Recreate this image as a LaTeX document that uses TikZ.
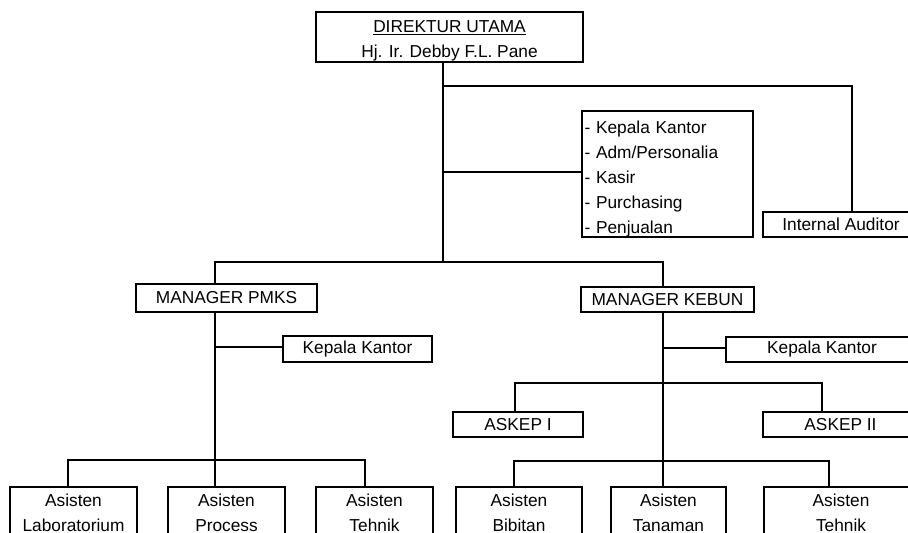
\documentclass[tikz,border=0pt]{standalone}
\usepackage{fontspec}
\setmainfont{Liberation Sans}
\usepackage{tikz}
\usetikzlibrary{calc}

\tikzset{
  kotak/.style={draw, line width=2.6pt, inner sep=0pt, align=center,
    font=\fontsize{17.3}{25}\selectfont},
  garis/.style={line width=1.6pt}
}

\begin{document}
\begin{tikzpicture}[x=1pt,y=-1pt]
    % page area
    \clip (0,0) rectangle (908,533);
    \fill[white] (0,0) rectangle (908,533);

    % draw boxes
    \node[kotak, minimum width=267pt, minimum height=50pt] (dirut) at (449.5,37)
      {\rule{0pt}{20.5pt}\underline{DIREKTUR UTAMA}\\Hj. Ir. Debby F.L. Pane};
    \node[kotak, minimum width=171pt, minimum height=124pt, text width=166pt,
      align=left, inner xsep=2.5pt] (staf) at (667.5,174)
      {\rule{0pt}{22.5pt}- Kepala Kantor\\- Adm/Personalia\\- Kasir\\- Purchasing\\- Penjualan};
    \node[kotak, minimum width=156pt, minimum height=25pt] (audit) at (841,224.5) {Internal Auditor};

    \node[kotak, minimum width=181pt, minimum height=28pt] (pmks) at (226.5,298) {MANAGER PMKS};
    \node[kotak, minimum width=149pt, minimum height=26pt] (kkpmks) at (357.5,349) {Kepala Kantor};
    \node[kotak, minimum width=173pt, minimum height=25pt] (kebun) at (667.5,299.5) {MANAGER KEBUN};
    \node[kotak, minimum width=192pt, minimum height=25pt] (kkkebun) at (822,349.5) {Kepala Kantor};

    \node[kotak, minimum width=130pt, minimum height=25pt] (askep1) at (518,424.5) {ASKEP I};
    \node[kotak, minimum width=155pt, minimum height=25pt] (askep2) at (840.5,424.5) {ASKEP II};

    \node[kotak, minimum width=127pt, minimum height=52pt] (lab) at (73.5,513) {Asisten\\Laboratorium};
    \node[kotak, minimum width=117pt, minimum height=52pt] (proses) at (226.5,513) {Asisten\\Process};
    \node[kotak, minimum width=117pt, minimum height=52pt] (tehpmks) at (374.5,513) {Asisten\\Tehnik};
    \node[kotak, minimum width=126pt, minimum height=52pt] (bibit) at (519,513) {Asisten\\Bibitan};
    \node[kotak, minimum width=115pt, minimum height=52pt] (tanam) at (668.5,513) {Asisten\\Tanaman};
    \node[kotak, minimum width=154pt, minimum height=52pt] (tehkebun) at (841,513) {Asisten\\Tehnik};

    % branch points
    \coordinate (t1) at (443,86);
    \coordinate (t2) at (443,172);
    \coordinate (t3) at (443,262);
    \coordinate (a1) at (852,86);
    \coordinate (m1) at (215,262);
    \coordinate (m2) at (663,262);
    \coordinate (p1) at (215,347);
    \coordinate (p3) at (215,460);
    \coordinate (b1) at (68,460);
    \coordinate (b3) at (365,460);
    \coordinate (k1) at (663,348);
    \coordinate (k3) at (663,461);
    \coordinate (s1) at (515,383);
    \coordinate (s2) at (822,383);
    \coordinate (r1) at (514,461);
    \coordinate (r3) at (829,461);

    % draw lines from direktur
    \draw[garis] (dirut.south -| t3) -- (t3);
    \draw[garis] (t1) -- (a1) -- (a1 |- audit.north);
    \draw[garis] (t2) -- (t2 -| staf.west);
    \draw[garis] (m1 |- pmks.north) -- (m1) -- (m2) -- (m2 |- kebun.north);

    % draw lines under manager pmks
    \draw[garis] (m1 |- pmks.south) -- (p3);
    \draw[garis] (p1) -- (p1 -| kkpmks.west);
    \draw[garis] (b1 |- lab.north) -- (b1) -- (b3) -- (b3 |- tehpmks.north);
    \draw[garis] (p3) -- (p3 |- proses.north);

    % draw lines under manager kebun
    \draw[garis] (m2 |- kebun.south) -- (k3);
    \draw[garis] (k1) -- (k1 -| kkkebun.west);
    \draw[garis] (s1 |- askep1.north) -- (s1) -- (s2) -- (s2 |- askep2.north);
    \draw[garis] (r1 |- bibit.north) -- (r1) -- (r3) -- (r3 |- tehkebun.north);
    \draw[garis] (k3) -- (k3 |- tanam.north);

\end{tikzpicture}
\end{document}
